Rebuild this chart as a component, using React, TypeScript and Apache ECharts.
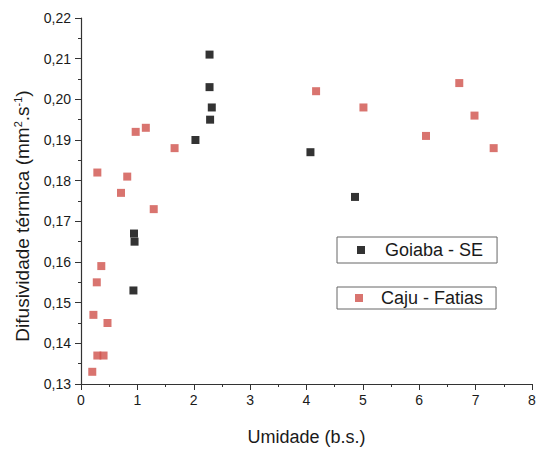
import React, { useEffect, useRef } from "react";
import * as echarts from "echarts";

const goiabaX = [2.28, 2.28, 2.32, 2.29, 2.03, 4.07, 4.86, 0.94, 0.95, 0.93];
const goiabaY = [0.211, 0.203, 0.198, 0.195, 0.19, 0.187, 0.176, 0.167, 0.165, 0.153];

const cajuX = [0.29, 0.71, 0.82, 0.97, 1.15, 1.66, 1.29, 4.17, 5.01, 6.12, 6.71, 6.98, 7.32, 0.36, 0.28, 0.22, 0.47, 0.29, 0.4, 0.2];
const cajuY = [0.182, 0.177, 0.181, 0.192, 0.193, 0.188, 0.173, 0.202, 0.198, 0.191, 0.204, 0.196, 0.188, 0.159, 0.155, 0.147, 0.145, 0.137, 0.137, 0.133];

const seriesNames = ["Goiaba - SE", "Caju - Fatias"];
const xTitle = "Umidade (b.s.)";

const font = "Liberation Sans, Arial, sans-serif";

export default function App() {
  const ref = useRef<HTMLDivElement>(null);
  useEffect(() => {
    if (!ref.current) return;
    const chart = echarts.init(ref.current, null, { renderer: "svg" });
    const legendBase = {
      orient: "horizontal",
      icon: "rect",
      itemWidth: 8,
      itemHeight: 8,
      borderColor: "#666",
      borderWidth: 1,
      borderRadius: 0,
      selectedMode: false,
      textStyle: { fontSize: 18, color: "#1a1a1a", fontFamily: font },
    };
    chart.setOption({
      animation: false,
      backgroundColor: "#fff",
      textStyle: { fontFamily: font },
      grid: { left: 81, right: 5, top: 18, bottom: 65, containLabel: false, outerBoundsMode: "none" },
      legend: [
        {
          ...legendBase,
          data: [seriesNames[0]],
          left: 337,
          top: 237,
          padding: [4, 14, 4, 20],
          textStyle: { ...legendBase.textStyle, padding: [0, 0, 0, 15] },
        },
        {
          ...legendBase,
          data: [seriesNames[1]],
          left: 337,
          top: 287,
          padding: [2, 13, 2, 18],
          textStyle: { ...legendBase.textStyle, padding: [0, 0, 0, 13] },
        },
      ],
      xAxis: {
        type: "value",
        min: 0,
        max: 8,
        interval: 1,
        name: xTitle,
        nameLocation: "middle",
        nameGap: 44,
        nameTextStyle: { fontSize: 18, color: "#1a1a1a", fontFamily: font },
        axisLine: { show: true, lineStyle: { color: "#333", width: 1.2 } },
        axisTick: { show: true, length: 6, inside: false, lineStyle: { color: "#333" } },
        minorTick: { show: true, splitNumber: 2, length: 3, lineStyle: { color: "#333" } },
        splitLine: { show: false },
        axisLabel: { fontSize: 14, color: "#1a1a1a", margin: 9, fontFamily: font },
      },
      yAxis: {
        type: "value",
        min: 0.13,
        max: 0.22,
        interval: 0.01,
        name: "Difusividade térmica (mm{sup|2}.s{sup|-1})",
        nameLocation: "middle",
        nameRotate: 90,
        nameGap: 49,
        nameTextStyle: {
          fontSize: 19,
          color: "#1a1a1a",
          fontFamily: font,
          padding: [0, 30, 0, 0],
          rich: { sup: { fontSize: 11, verticalAlign: "top", padding: [0, 0, 9, 0], color: "#1a1a1a" } },
        },
        axisLine: { show: true, lineStyle: { color: "#333", width: 1.2 } },
        axisTick: { show: true, length: 6, inside: false, lineStyle: { color: "#333" } },
        minorTick: { show: true, splitNumber: 2, length: 3, lineStyle: { color: "#333" } },
        splitLine: { show: false },
        axisLabel: {
          fontSize: 14,
          color: "#1a1a1a",
          margin: 10,
          fontFamily: font,
          formatter: (v: number) => v.toFixed(2).replace(".", ","),
        },
      },
      series: [
        {
          name: seriesNames[0],
          type: "scatter",
          symbol: "rect",
          symbolSize: 8,
          itemStyle: { color: "#000" },
          data: goiabaX.map((x, i) => [x, goiabaY[i]]),
        },
        {
          name: seriesNames[1],
          type: "scatter",
          symbol: "rect",
          symbolSize: 8,
          itemStyle: { color: "#cf514b" },
          data: cajuX.map((x, i) => [x, cajuY[i]]),
        },
      ],
    });
    return () => chart.dispose();
  }, []);
  return <div ref={ref} style={{ width: 537, height: 449, position: "absolute", left: 0, top: 0 }} />;
}
